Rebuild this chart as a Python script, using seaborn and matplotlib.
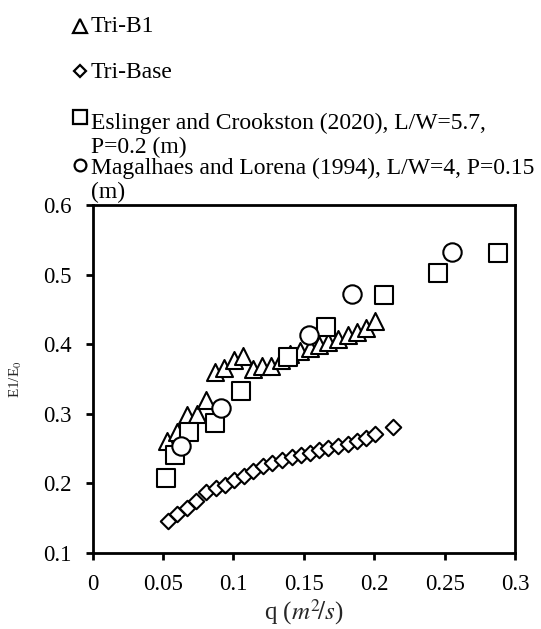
import numpy as np
import pandas as pd
import matplotlib
matplotlib.use("Agg")
import matplotlib.pyplot as plt
import seaborn as sns
from matplotlib.lines import Line2D
from matplotlib.ticker import FuncFormatter

# Tri-B1
tri_b1_q = [0.0526, 0.0601, 0.0668, 0.0739, 0.0803, 0.0869, 0.0935, 0.1004, 0.1070,
            0.1136, 0.1205, 0.1270, 0.1337, 0.1403, 0.1472, 0.1543, 0.1610, 0.1673,
            0.1744, 0.1811, 0.1875, 0.1941, 0.2005]
tri_b1_e = [0.260, 0.273, 0.298, 0.300, 0.319, 0.360, 0.365, 0.377, 0.383,
            0.364, 0.368, 0.368, 0.377, 0.386, 0.390, 0.394, 0.398, 0.403,
            0.408, 0.413, 0.418, 0.423, 0.433]

# Tri-Base
tri_base_q = [0.0533, 0.0597, 0.0668, 0.0734, 0.0805, 0.0876, 0.0940, 0.1006, 0.1075,
              0.1140, 0.1207, 0.1276, 0.1342, 0.1413, 0.1477, 0.1543, 0.1610, 0.1675,
              0.1744, 0.1811, 0.1875, 0.1941, 0.2005, 0.2135]
tri_base_e = [0.145, 0.155, 0.164, 0.175, 0.188, 0.193, 0.197, 0.204, 0.210,
              0.218, 0.224, 0.229, 0.233, 0.237, 0.240, 0.244, 0.247, 0.250,
              0.253, 0.257, 0.261, 0.265, 0.270, 0.281]

# Eslinger and Crookston (2020)
esl_q = [0.0520, 0.0585, 0.0686, 0.0869, 0.1051, 0.1390, 0.1657, 0.2069, 0.2455, 0.2880]
esl_e = [0.207, 0.241, 0.274, 0.286, 0.333, 0.381, 0.425, 0.470, 0.502, 0.531]

# Magalhaes and Lorena (1994)
mag_q = [0.0625, 0.0911, 0.1538, 0.1840, 0.2550]
mag_e = [0.254, 0.308, 0.413, 0.472, 0.533]

labels = ["Tri-B1", "Tri-Base",
          "Eslinger and Crookston (2020), L/W=5.7,\nP=0.2 (m)",
          "Magalhaes and Lorena (1994), L/W=4, P=0.15\n(m)"]
markers = ['^', 'D', 's', 'o']

W, H = 541, 629

def main():
    sns.set_style("ticks")
    plt.rcParams['font.family'] = ['Liberation Serif', 'DejaVu Serif']
    plt.rcParams['mathtext.fontset'] = 'stix'

    fig = plt.figure(figsize=(W / 100, H / 100), dpi=100)
    ax = fig.add_axes([92.7 / W, 1 - 552.7 / H, (515 - 92.7) / W, (552.7 - 205) / H])

    kw = dict(facecolor='white', edgecolor='black', linewidth=1.5, ax=ax, zorder=3,
              legend=False)
    sns.scatterplot(x=tri_b1_q, y=tri_b1_e, marker='^', s=150, **kw)
    sns.scatterplot(x=tri_base_q, y=tri_base_e, marker='D', s=62, **kw)
    sns.scatterplot(x=esl_q, y=esl_e, marker='s', s=150, **kw)
    sns.scatterplot(x=mag_q, y=mag_e, marker='o', s=175, **kw)

    ax.set_xlim(0, 0.3)
    ax.set_ylim(0.1, 0.6)
    ax.set_xticks(np.arange(0, 0.31, 0.05))
    ax.set_yticks(np.arange(0.1, 0.61, 0.1))
    ax.xaxis.set_major_formatter(FuncFormatter(lambda v, p: "%g" % round(v, 2)))
    ax.yaxis.set_major_formatter(FuncFormatter(lambda v, p: "%.1f" % v))
    ax.tick_params(axis='both', direction='out', length=5, width=2, labelsize=16.5,
                   color='black', labelcolor='black')
    ax.tick_params(axis='y', pad=10)
    ax.tick_params(axis='x', pad=10)
    for sp in ax.spines.values():
        sp.set_visible(True)
        sp.set_linewidth(2)
        sp.set_color('black')

    ax.set_xlabel(r"q ($m^2\!/s$)", fontsize=18, labelpad=2)
    ax.set_ylabel(r"E1/E$_0$", fontsize=11, labelpad=14)

    # legend above the plot, one entry per row (baseline of the last line)
    text_base = [32, 78, 153, 198]
    marker_y = [26, 71, 117, 165]
    marker_ms = [10, 6.5, 9.5, 8.5]
    for lab, mk, tb, my, ms in zip(labels, markers, text_base, marker_y, marker_ms):
        fig.add_artist(Line2D([80 / W], [1 - my / H], marker=mk, markersize=ms,
                              markerfacecolor='white', markeredgecolor='black',
                              markeredgewidth=1.6, linestyle='none',
                              transform=fig.transFigure))
        fig.text(91 / W, 1 - tb / H, lab, fontsize=17, ha='left', va='baseline',
                 linespacing=1.15, color='black')

    fig.savefig("out.png", dpi=100)
    plt.close(fig)

if __name__ == '__main__':
    main()
